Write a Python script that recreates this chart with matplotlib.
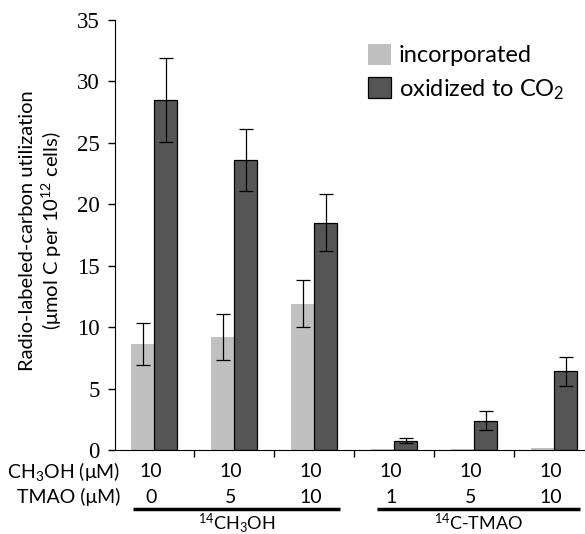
import numpy as np
import matplotlib
matplotlib.use("Agg")
import matplotlib.pyplot as plt

plt.rcParams["font.family"] = ["Lato", "DejaVu Sans"]
plt.rcParams["mathtext.fontset"] = "custom"
plt.rcParams["mathtext.rm"] = "Lato"
plt.rcParams["mathtext.it"] = "Lato:italic"

# Radio-labeled carbon per treatment (umol C per 10^12 cells)
incorporated = [8.6, 9.2, 11.9, 0.05, 0.05, 0.15]
incorporated_err = [1.7, 1.9, 1.9, 0.0, 0.0, 0.05]
oxidized = [28.5, 23.6, 18.5, 0.75, 2.4, 6.4]
oxidized_err = [3.4, 2.5, 2.3, 0.2, 0.8, 1.2]

ch3oh_um = ["10", "10", "10", "10", "10", "10"]
tmao_um = ["0", "5", "10", "1", "5", "10"]
tracers = ["$^{14}$CH$_3$OH", "$^{14}$C-TMAO"]

LIGHT = "#c0c0c0"
DARK = "#555555"

fig = plt.figure(figsize=(5.85, 5.34), dpi=100)
ax = fig.add_axes([115 / 585, 84 / 534, 470 / 585, 430 / 534])

x = np.arange(len(oxidized))
w = 0.29
ax.bar(x - w / 2, incorporated, w, color=LIGHT, label="incorporated")
ax.bar(x + w / 2, oxidized, w, color=DARK, edgecolor="black", linewidth=0.9,
       label="oxidized to CO$_2$")
ax.errorbar(x[:3] - w / 2, incorporated[:3], yerr=incorporated_err[:3], fmt="none",
            ecolor="black", elinewidth=0.9, capsize=5, capthick=0.9)
ax.errorbar(x + w / 2, oxidized, yerr=oxidized_err, fmt="none",
            ecolor="black", elinewidth=0.9, capsize=5, capthick=0.9)

ax.set_xlim(-0.49, 5.385)
ax.set_ylim(0, 35)
ax.set_yticks(range(0, 36, 5))
ax.set_yticklabels([str(v) for v in range(0, 36, 5)], family="Liberation Serif", fontsize=16.5)
ax.set_xticks(np.arange(0.5, 5, 1))
ax.set_xticklabels([])
ax.tick_params(axis="both", direction="out", length=5, width=1)
ax.tick_params(axis="y", pad=6)
ax.spines["top"].set_visible(False)
ax.spines["right"].set_visible(False)

# treatment table under the axis
tr = ax.get_xaxis_transform()
ax.text(-0.425, -0.049, "CH$_3$OH (μM)", transform=tr, ha="right", va="center", fontsize=14)
ax.text(-0.425, -0.11, "TMAO (μM)", transform=tr, ha="right", va="center", fontsize=14)
for i in x:
    ax.text(i - 0.04, -0.049, ch3oh_um[i], transform=tr, ha="center", va="center", fontsize=14)
    ax.text(i - 0.04, -0.11, tmao_um[i], transform=tr, ha="center", va="center", fontsize=14)

for (x0, x1), name in zip([(-0.26, 2.325), (2.79, 5.325)], tracers):
    ax.plot([x0, x1], [-0.137, -0.137], transform=tr, color="black", lw=2.5,
            clip_on=False, solid_capstyle="butt")
    ax.text((x0 + x1) / 2, -0.169, name, transform=tr, ha="center", va="center",
            fontsize=13)

fig.text(42 / 585, 1 - 231 / 534,
         "Radio-labeled-carbon utilization\n(μmol C per 10$^{12}$ cells)",
         rotation=90, ha="center", va="center", multialignment="center",
         fontsize=14.5, linespacing=1.2)

ax.legend(loc="upper left", bbox_to_anchor=(0.538, 0.945), frameon=False, fontsize=17,
          borderaxespad=0, borderpad=0,
          handlelength=1.0, handleheight=1.0, handletextpad=0.3, labelspacing=0.45)

fig.savefig("out.png", dpi=100)
